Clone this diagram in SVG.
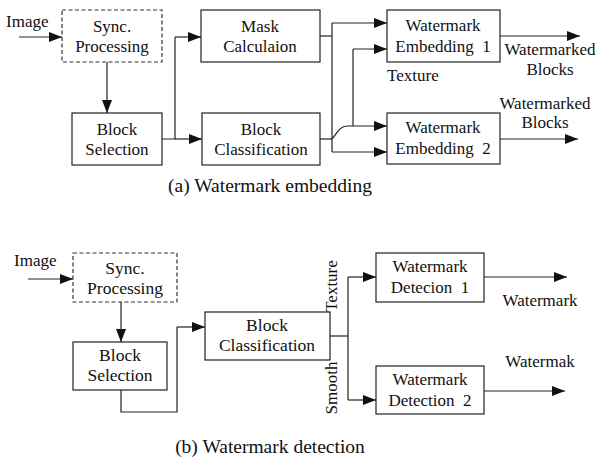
<svg xmlns="http://www.w3.org/2000/svg" width="598" height="460" viewBox="0 0 598 460" font-family="Liberation Serif, Times New Roman, serif">
<style>
text{fill:#111;font-size:17px}
.b{font-size:17.5px}
.c{text-anchor:middle}
.pre{white-space:pre}
.cap{font-size:19.5px}
.box{fill:#fff;stroke:#222;stroke-width:1.2}
.dash{fill:#fff;stroke:#333;stroke-width:1.2;stroke-dasharray:4 2.5}
.ln{fill:none;stroke:#222;stroke-width:1.2}
.ar{fill:none;stroke:#222;stroke-width:1.2;marker-end:url(#ah)}
</style>
<defs>
<marker id="ah" markerUnits="userSpaceOnUse" markerWidth="14" markerHeight="10" refX="13" refY="5" orient="auto">
<path d="M0,0 L13,5 L0,10 Z" fill="#111"/>
</marker>
</defs>
<rect width="598" height="460" fill="#fff"/>

<g id="connectors">
<path class="ar" d="M19,37 H62"/>
<path class="ar" d="M107,62 V113"/>
<path class="ln" d="M162,139 H175 V37"/>
<path class="ar" d="M175,37 H201"/>
<path class="ar" d="M175,139 H202"/>
<path class="ln" d="M320,36 H332"/>
<path class="ln" d="M320,139 H332"/>
<path class="ln" d="M332,23 V152"/>
<path class="ar" d="M332,23 H387"/>
<path class="ar" d="M332,152 H387"/>
<path class="ln" d="M332,139 C337,133 340,126 347,126"/>
<path class="ar" d="M347,126 H387"/>
<path class="ln" d="M353,126 V49"/>
<path class="ar" d="M353,49 H387"/>
<path class="ar" d="M500,36 H580"/>
<path class="ar" d="M500,139 H578"/>
<path class="ar" d="M28,279 H73"/>
<path class="ar" d="M121,302 V342"/>
<path class="ln" d="M121,390 V412 H177 V327"/>
<path class="ar" d="M177,327 H205"/>
<path class="ln" d="M330,336 H348"/>
<path class="ln" d="M348,277 V400"/>
<path class="ar" d="M348,277 H376"/>
<path class="ar" d="M348,400 H376"/>
<path class="ar" d="M484,277 H567"/>
<path class="ar" d="M484,391 H565"/>
</g>

<g id="top-labels">
<text x="6" y="27">Image</text>
<text x="387" y="81">Texture</text>
<text x="550" y="55" class="c">Watermarked</text>
<text x="550" y="75" class="c">Blocks</text>
<text x="545" y="109" class="c">Watermarked</text>
<text x="545" y="128" class="c">Blocks</text>
<text x="270" y="192" class="c cap">(a) Watermark embedding</text>
</g>

<g id="sync1">
<rect class="dash" x="62" y="10" width="100" height="52"/>
<text x="112" y="32" class="c">Sync.</text>
<text x="112" y="52" class="c">Processing</text>
</g>
<g id="blocksel1">
<rect class="box" x="72" y="113" width="90" height="52"/>
<text x="117" y="135" class="c">Block</text>
<text x="117" y="155" class="c">Selection</text>
</g>
<g id="mask">
<rect class="box" x="201" y="10" width="119" height="52"/>
<text x="260" y="32" class="c">Mask</text>
<text x="260" y="52" class="c">Calculaion</text>
</g>
<g id="blockclass1">
<rect class="box" x="202" y="113" width="118" height="52"/>
<text x="261" y="135" class="c">Block</text>
<text x="261" y="155" class="c">Classification</text>
</g>
<g id="embed1">
<rect class="box" x="387" y="10" width="113" height="52"/>
<text x="443" y="31" class="c">Watermark</text>
<text x="443" y="52" class="c pre">Embedding  1</text>
</g>
<g id="embed2">
<rect class="box" x="387" y="113" width="113" height="51"/>
<text x="443" y="133" class="c">Watermark</text>
<text x="443" y="154" class="c pre">Embedding  2</text>
</g>

<g id="bottom-labels">
<text x="14" y="266">Image</text>
<text x="337" y="286" class="c" transform="rotate(-90 337 286)">Texture</text>
<text x="337" y="388" class="c" transform="rotate(-90 337 388)">Smooth</text>
<text x="540" y="306" class="c">Watermark</text>
<text x="540" y="367" class="c">Watermak</text>
<text x="270" y="453" class="c cap">(b) Watermark detection</text>
</g>

<g id="sync2">
<rect class="dash" x="73" y="253" width="104" height="49"/>
<text x="125" y="274" class="c b">Sync.</text>
<text x="125" y="294" class="c b">Processing</text>
</g>
<g id="blocksel2">
<rect class="box" x="73" y="342" width="94" height="48"/>
<text x="120" y="361" class="c b">Block</text>
<text x="120" y="381" class="c b">Selection</text>
</g>
<g id="blockclass2">
<rect class="box" x="205" y="312" width="125" height="48"/>
<text x="267" y="331" class="c b">Block</text>
<text x="267" y="351" class="c b">Classification</text>
</g>
<g id="detect1">
<rect class="box" x="376" y="253" width="108" height="49"/>
<text x="430" y="272" class="c">Watermark</text>
<text x="430" y="293" class="c pre">Detecion  1</text>
</g>
<g id="detect2">
<rect class="box" x="376" y="366" width="108" height="48"/>
<text x="430" y="385" class="c">Watermark</text>
<text x="430" y="406" class="c pre">Detection  2</text>
</g>
</svg>
